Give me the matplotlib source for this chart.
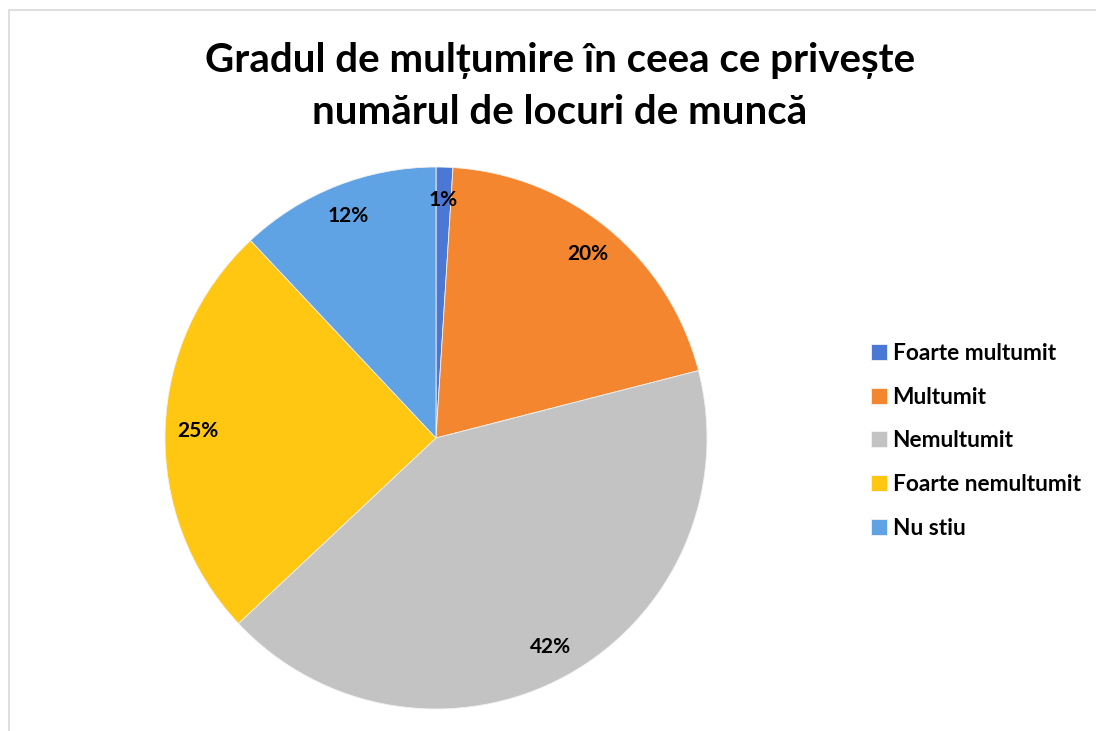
import matplotlib
matplotlib.use("Agg")
from matplotlib import pyplot as plt
from matplotlib.patches import Rectangle

# data
categories = ['Foarte multumit', 'Multumit', 'Nemultumit', 'Foarte nemultumit', 'Nu stiu']
values = [1, 20, 42, 25, 12]
colors = ['#4A78D4', '#F4862F', '#C3C3C3', '#FFC612', '#5FA3E4']
title = 'Gradul de mulțumire în ceea ce privește\nnumărul de locuri de muncă'

plt.rcParams['font.family'] = ['Lato', 'DejaVu Sans']

fig = plt.figure(figsize=(10.96, 7.31), dpi=100)
fig.patches.append(Rectangle((9 / 1096, -0.01), 1.2, (731 - 10) / 731 + 0.01,
                             transform=fig.transFigure, fill=False,
                             edgecolor='#D9D9D9', linewidth=1.2))

# pie axes, centre ~ (436, 438) px, radius ~271 px
cx, cy, half = 436, 438, 280
ax = fig.add_axes([(cx - half) / 1096, (731 - cy - half) / 731, 2 * half / 1096, 2 * half / 731])
wedges, texts, autotexts = ax.pie(values, colors=colors, startangle=90, counterclock=False,
                                  radius=271 / half, autopct='%1.0f%%', pctdistance=0.88,
                                  wedgeprops=dict(edgecolor='#F2F2F2', linewidth=0.6),
                                  textprops=dict(fontsize=15, fontweight='bold', color='black'))
ax.set_xlim(-1, 1)
ax.set_ylim(-1, 1)
ax.set_aspect('auto')
ax.axis('off')

fig.text(0.511, 0.882, title, ha='center', va='center', fontsize=29, fontweight='bold',
         linespacing=1.5)

leg = fig.legend(wedges, categories, loc='upper left', bbox_to_anchor=(862 / 1096, 1 - 334 / 731),
                 frameon=False, prop=dict(size=16.3, weight='bold'), handlelength=0.7, handleheight=0.7,
                 handletextpad=0.25, labelspacing=1.0, borderaxespad=0)

fig.savefig('out.png', dpi=100)
